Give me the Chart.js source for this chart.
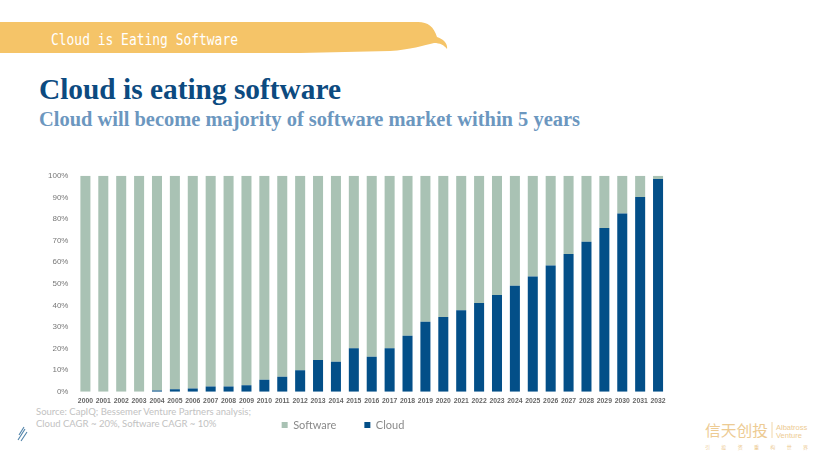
<!DOCTYPE html>
<html>
<head>
<meta charset="utf-8">
<script src="https://cdn.jsdelivr.net/npm/chart.js@4"></script>
<style>
  html, body { margin: 0; padding: 0; background: #fff; }
  body { width: 831px; height: 464px; position: relative; overflow: hidden; font-family: Lato, "Open Sans", sans-serif; }
  #deco { position: absolute; left: 0; top: 0; }
  #chartBox { position: absolute; left: 0; top: 163px; width: 682px; height: 296px; }
  .src { position: absolute; left: 36px; top: 406px; font-family: Lato, sans-serif; font-size: 9.5px; line-height: 12px; color: #c2c2c2; white-space: nowrap; }
</style>
</head>
<body>
<svg id="deco" width="831" height="464" xmlns="http://www.w3.org/2000/svg">
  <path d="M0,22 L418,22 C428,22 434,27 437,37 C443,39 448,43 447,49 C444,45 440,43 434,43 C424,45 410,50 390,51 L300,53 L0,53 Z" fill="#F5C468"/>
  <text x="51" y="45" font-family="DejaVu Sans Mono, monospace" font-size="15" fill="#ffffff" textLength="187" lengthAdjust="spacingAndGlyphs">Cloud is Eating Software</text>
  <text x="39" y="99" font-family="Liberation Serif, DejaVu Serif, serif" font-weight="bold" font-size="29" fill="#0C4A80" textLength="302" lengthAdjust="spacingAndGlyphs">Cloud is eating software</text>
  <text x="39" y="126" font-family="Liberation Serif, DejaVu Serif, serif" font-weight="bold" font-size="20" fill="#6C97BF" textLength="541" lengthAdjust="spacingAndGlyphs">Cloud will become majority of software market within 5 years</text>
  <g stroke="#4F82A8" stroke-width="1.1" fill="none">
    <line x1="19" y1="435" x2="24" y2="427"/>
    <line x1="18" y1="440" x2="25" y2="429"/>
    <line x1="21" y1="441" x2="27" y2="432"/>
  </g>
  <text x="705" y="436" font-family="Noto Sans CJK SC, sans-serif" font-size="15" fill="#EDCB93" textLength="63" lengthAdjust="spacingAndGlyphs">信天创投</text>
  <line x1="772" y1="422" x2="772" y2="438" stroke="#EDCB93" stroke-width="0.8"/>
  <text x="776" y="430" font-family="Liberation Sans, sans-serif" font-size="7.5" fill="#EDCB93">Albatross</text>
  <text x="776" y="438" font-family="Liberation Sans, sans-serif" font-size="7.5" fill="#EDCB93">Venture</text>
  <text x="705" y="449" font-family="Noto Sans CJK SC, sans-serif" font-size="5" fill="#EDCB93" textLength="103" lengthAdjust="spacing">引投资重构世界</text>
</svg>
<div class="src">Source: CapIQ; Bessemer Venture Partners analysis;<br>Cloud CAGR ~ 20%, Software CAGR ~ 10%</div>
<div id="chartBox"><canvas id="c"></canvas></div>
<script>
const years = ["2000","2001","2002","2003","2004","2005","2006","2007","2008","2009","2010","2011","2012","2013","2014","2015","2016","2017","2018","2019","2020","2021","2022","2023","2024","2025","2026","2027","2028","2029","2030","2031","2032"];
const cloudShare = [0, 0, 0, 0, 0.6, 1.2, 1.5, 2.5, 2.5, 3.1, 5.6, 7.0, 10.0, 14.7, 13.9, 20.2, 16.2, 20.2, 26.0, 32.5, 34.6, 37.8, 41.1, 44.8, 49.1, 53.4, 58.5, 63.8, 69.5, 75.8, 82.6, 90.2, 98.5];
const softwareShare = [100, 100, 100, 100, 99.4, 98.8, 98.5, 97.5, 97.5, 96.9, 94.4, 93.0, 90.0, 85.3, 86.1, 79.8, 83.8, 79.8, 74.0, 67.5, 65.4, 62.2, 58.9, 55.2, 50.9, 46.6, 41.5, 36.2, 30.5, 24.2, 17.4, 9.8, 1.5];
const yTicks = [0, 10, 20, 30, 40, 50, 60, 70, 80, 90, 100];

const legendShift = {
  id: 'legendShift',
  afterLayout(chart) {
    const lg = chart.legend;
    const dx = 10.5, dy = 18.5;
    lg.left -= dx; lg.right -= dx;
    lg.top -= dy; lg.bottom -= dy;
  }
};

new Chart(document.getElementById('c'), {
  type: 'bar',
  data: {
    labels: years,
    datasets: [
      { label: 'Cloud', data: cloudShare, backgroundColor: '#034F88', barPercentage: 0.56, categoryPercentage: 1 },
      { label: 'Software', data: softwareShare, backgroundColor: '#A9C2B4', barPercentage: 0.56, categoryPercentage: 1 }
    ]
  },
  plugins: [legendShift],
  options: {
    responsive: true,
    maintainAspectRatio: false,
    animation: false,
    layout: { padding: { left: 40, right: 15, top: 6, bottom: 0 } },
    plugins: {
      tooltip: { enabled: false },
      legend: {
        position: 'bottom',
        reverse: true,
        labels: {
          boxWidth: 6, boxHeight: 6, padding: 28,
          color: '#8a8a8a',
          font: { family: 'Lato, sans-serif', size: 11 }
        }
      }
    },
    scales: {
      x: {
        stacked: true,
        grid: { display: false, drawTicks: false },
        border: { display: false },
        ticks: { autoSkip: false, maxRotation: 0, minRotation: 0, padding: 5, color: '#666', font: { family: 'Liberation Sans, sans-serif', size: 6.8, weight: 'bold' } }
      },
      y: {
        stacked: true,
        min: 0, max: 100,
        afterBuildTicks: (axis) => { axis.ticks = yTicks.map(v => ({ value: v })); },
        grid: { display: false, drawTicks: false },
        border: { display: false },
        ticks: { padding: 8, color: '#777', font: { family: 'Liberation Sans, sans-serif', size: 8 }, callback: (v) => v + '%' }
      }
    }
  }
});
</script>
</body>
</html>
